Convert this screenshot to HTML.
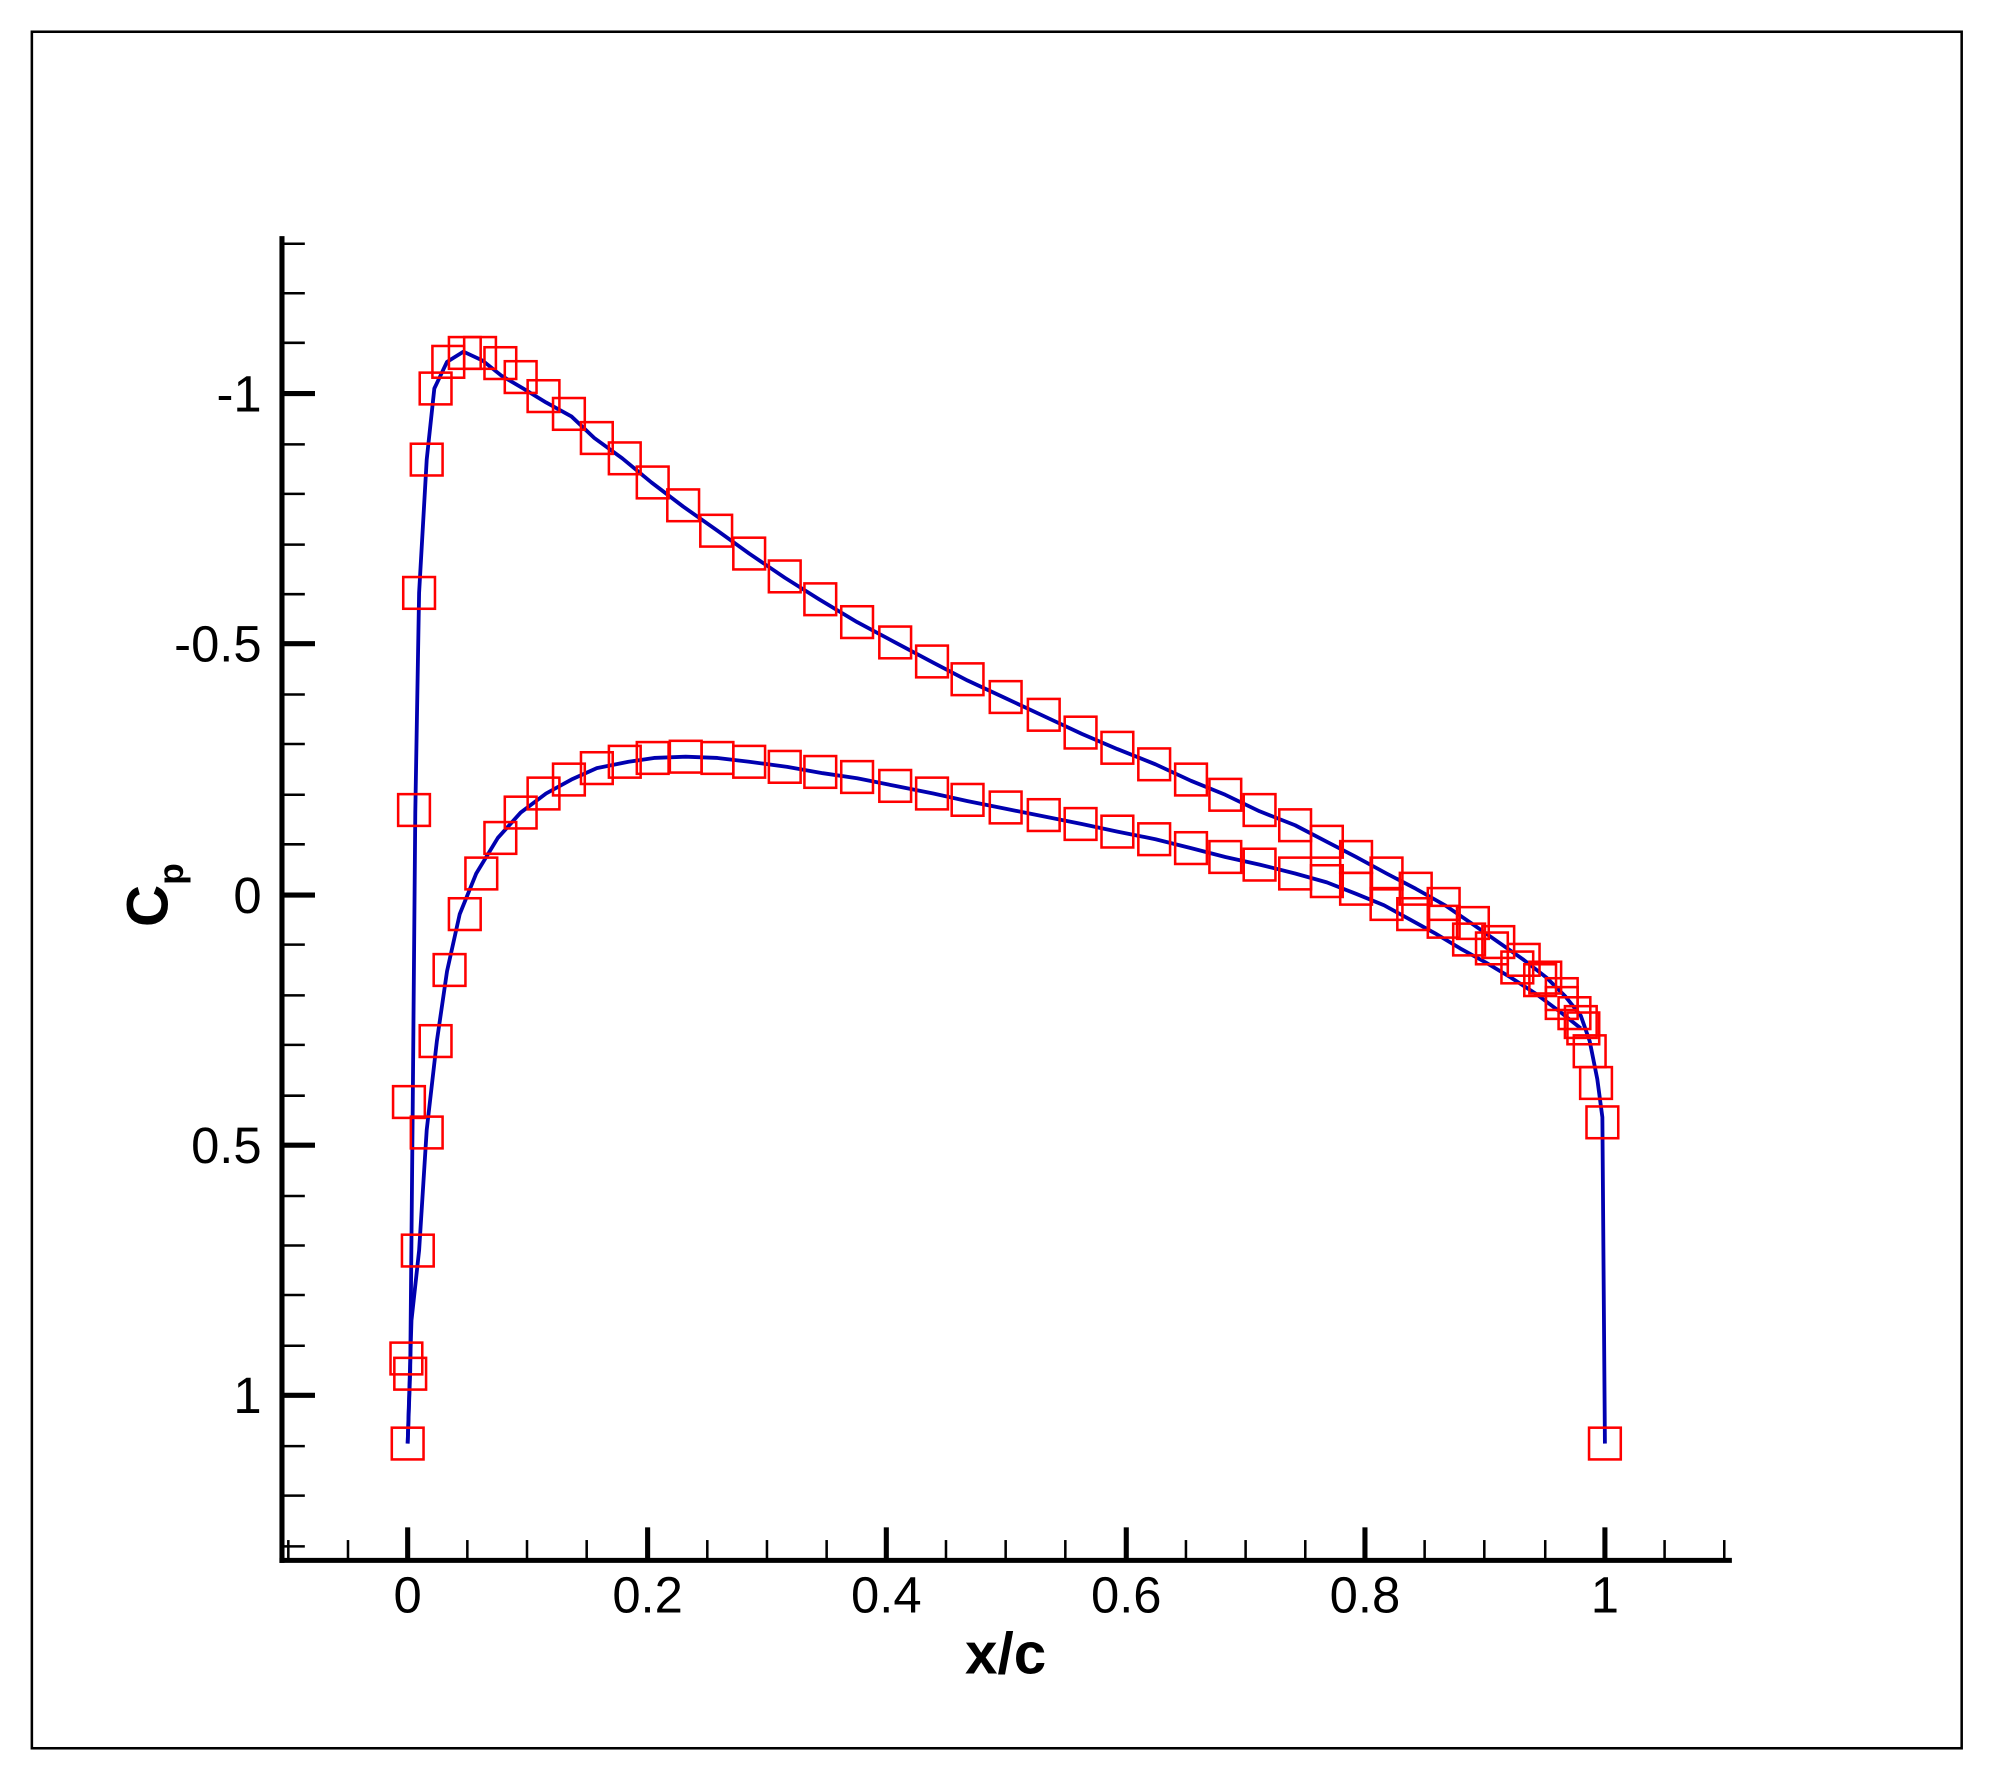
<!DOCTYPE html>
<html><head><meta charset="utf-8"><style>
html,body{margin:0;padding:0;background:#fff}
svg{display:block}
text{font-family:"Liberation Sans",Arial,sans-serif}
</style></head><body>
<svg width="1991" height="1780" viewBox="0 0 1568 1402" xmlns="http://www.w3.org/2000/svg">
<rect x="25" y="25" width="1520" height="1352" fill="none" stroke="#000" stroke-width="2"/>
<g stroke="#000">
<line x1="222" y1="186" x2="222" y2="1231" stroke-width="4"/>
<line x1="220" y1="1229" x2="1364" y2="1229" stroke-width="4"/>
<g stroke-width="4">
<line x1="222" y1="310" x2="248" y2="310"/><line x1="222" y1="507" x2="248" y2="507"/>
<line x1="222" y1="705" x2="248" y2="705"/><line x1="222" y1="902" x2="248" y2="902"/>
<line x1="222" y1="1099" x2="248" y2="1099"/>
</g>
<g stroke-width="2">
<line x1="222" y1="192" x2="240" y2="192"/><line x1="222" y1="231" x2="240" y2="231"/><line x1="222" y1="270" x2="240" y2="270"/>
<line x1="222" y1="350" x2="240" y2="350"/><line x1="222" y1="389" x2="240" y2="389"/><line x1="222" y1="429" x2="240" y2="429"/><line x1="222" y1="468" x2="240" y2="468"/>
<line x1="222" y1="547" x2="240" y2="547"/><line x1="222" y1="586" x2="240" y2="586"/><line x1="222" y1="626" x2="240" y2="626"/><line x1="222" y1="665" x2="240" y2="665"/>
<line x1="222" y1="744" x2="240" y2="744"/><line x1="222" y1="784" x2="240" y2="784"/><line x1="222" y1="823" x2="240" y2="823"/><line x1="222" y1="863" x2="240" y2="863"/>
<line x1="222" y1="942" x2="240" y2="942"/><line x1="222" y1="981" x2="240" y2="981"/><line x1="222" y1="1020" x2="240" y2="1020"/><line x1="222" y1="1060" x2="240" y2="1060"/>
<line x1="222" y1="1139" x2="240" y2="1139"/><line x1="222" y1="1178" x2="240" y2="1178"/><line x1="222" y1="1218" x2="240" y2="1218"/>
</g>
<g stroke-width="4">
<line x1="321" y1="1229" x2="321" y2="1203"/><line x1="510" y1="1229" x2="510" y2="1203"/>
<line x1="698" y1="1229" x2="698" y2="1203"/><line x1="887" y1="1229" x2="887" y2="1203"/>
<line x1="1075" y1="1229" x2="1075" y2="1203"/><line x1="1264" y1="1229" x2="1264" y2="1203"/>
</g>
<g stroke-width="2">
<line x1="227" y1="1229" x2="227" y2="1213"/><line x1="274" y1="1229" x2="274" y2="1213"/>
<line x1="368" y1="1229" x2="368" y2="1213"/><line x1="415" y1="1229" x2="415" y2="1213"/><line x1="462" y1="1229" x2="462" y2="1213"/>
<line x1="557" y1="1229" x2="557" y2="1213"/><line x1="604" y1="1229" x2="604" y2="1213"/><line x1="651" y1="1229" x2="651" y2="1213"/>
<line x1="745" y1="1229" x2="745" y2="1213"/><line x1="792" y1="1229" x2="792" y2="1213"/><line x1="839" y1="1229" x2="839" y2="1213"/>
<line x1="934" y1="1229" x2="934" y2="1213"/><line x1="981" y1="1229" x2="981" y2="1213"/><line x1="1028" y1="1229" x2="1028" y2="1213"/>
<line x1="1122" y1="1229" x2="1122" y2="1213"/><line x1="1169" y1="1229" x2="1169" y2="1213"/><line x1="1217" y1="1229" x2="1217" y2="1213"/>
<line x1="1311" y1="1229" x2="1311" y2="1213"/><line x1="1358" y1="1229" x2="1358" y2="1213"/>
</g>
</g>
<g font-size="40" fill="#000" text-anchor="end">
<text x="206" y="324">-1</text><text x="206" y="521">-0.5</text><text x="206" y="719">0</text>
<text x="206" y="916">0.5</text><text x="206" y="1113">1</text>
</g>
<g font-size="40" fill="#000" text-anchor="middle">
<text x="321" y="1270">0</text><text x="510" y="1270">0.2</text><text x="698" y="1270">0.4</text>
<text x="887" y="1270">0.6</text><text x="1075" y="1270">0.8</text><text x="1264" y="1270">1</text>
</g>
<text x="792" y="1318" font-size="46" font-weight="bold" text-anchor="middle">x/c</text>
<g transform="translate(132,705) rotate(-90)">
<text x="0" y="0" font-size="46" font-weight="bold" text-anchor="middle">C<tspan font-size="28" dy="12">p</tspan></text>
</g>
<g fill="none" stroke="#0000b0" stroke-width="3" stroke-linejoin="round">
<polyline points="321,1137 323,1080 325,870 327,640 330,467 336,362 342,306 352,285 365,277 380,284 395,296 412,306 430,317 450,328 468,345 490,361 513,380 538,399 565,418 590,436 618,455 645,472 675,490 705,506 735,522 762,536 792,550 822,564 852,578 880,590 910,602 938,615 965,626 992,639 1020,650 1045,663 1068,675 1092,688 1115,700 1138,713 1160,728 1180,742 1200,756 1218,770 1233,785 1245,800 1252,820 1258,850 1262,880 1264,1137"/>
<polyline points="321,1137 324,1040 330,985 336,890 344,820 352,765 362,720 375,688 392,660 410,640 430,625 450,614 470,605 495,600 515,597 540,596 565,597 590,600 620,604 648,609 675,613 705,619 735,625 762,631 792,637 822,643 852,649 880,655 910,661 938,668 965,675 992,681 1020,688 1045,695 1068,704 1090,713 1110,724 1130,735 1150,747 1170,758 1190,770 1210,783 1230,798 1245,810"/>
</g>
<g fill="none" stroke="#ff0000" stroke-width="2">
<rect x="308.5" y="1124.5" width="25" height="25"/><rect x="310.5" y="1069.5" width="25" height="25"/><rect x="307.5" y="1057.5" width="25" height="25"/>
<rect x="323.5" y="349.5" width="25" height="25"/><rect x="309.5" y="855.5" width="25" height="25"/><rect x="313.5" y="625.5" width="25" height="25"/>
<rect x="317.5" y="454.5" width="25" height="25"/><rect x="330.5" y="293.5" width="25" height="25"/><rect x="340.5" y="272.5" width="25" height="25"/>
<rect x="353.5" y="265.5" width="25" height="25"/><rect x="365.5" y="265.5" width="25" height="25"/><rect x="381.5" y="273.5" width="25" height="25"/>
<rect x="397.5" y="284.5" width="25" height="25"/><rect x="415.5" y="299.5" width="25" height="25"/><rect x="435.5" y="313.5" width="25" height="25"/>
<rect x="457.5" y="332.5" width="25" height="25"/><rect x="479.5" y="348.5" width="25" height="25"/><rect x="501.5" y="367.5" width="25" height="25"/>
<rect x="525.5" y="385.5" width="25" height="25"/><rect x="551.5" y="405.5" width="25" height="25"/><rect x="577.5" y="423.5" width="25" height="25"/>
<rect x="605.5" y="441.5" width="25" height="25"/><rect x="633.5" y="459.5" width="25" height="25"/><rect x="662.5" y="477.5" width="25" height="25"/>
<rect x="692.5" y="493.5" width="25" height="25"/><rect x="721.5" y="508.5" width="25" height="25"/><rect x="749.5" y="522.5" width="25" height="25"/>
<rect x="779.5" y="536.5" width="25" height="25"/><rect x="809.5" y="550.5" width="25" height="25"/><rect x="838.5" y="564.5" width="25" height="25"/>
<rect x="867.5" y="576.5" width="25" height="25"/><rect x="896.5" y="589.5" width="25" height="25"/><rect x="925.5" y="601.5" width="25" height="25"/>
<rect x="952.5" y="613.5" width="25" height="25"/><rect x="979.5" y="625.5" width="25" height="25"/><rect x="1007.5" y="637.5" width="25" height="25"/>
<rect x="1032.5" y="650.5" width="25" height="25"/><rect x="1055.5" y="662.5" width="25" height="25"/><rect x="1079.5" y="675.5" width="25" height="25"/>
<rect x="1102.5" y="687.5" width="25" height="25"/><rect x="1124.5" y="699.5" width="25" height="25"/><rect x="1147.5" y="714.5" width="25" height="25"/>
<rect x="1167.5" y="729.5" width="25" height="25"/><rect x="1187.5" y="743.5" width="25" height="25"/><rect x="1204.5" y="757.5" width="25" height="25"/>
<rect x="1217.5" y="770.5" width="25" height="25"/><rect x="1227.5" y="785.5" width="25" height="25"/><rect x="1234.5" y="797.5" width="25" height="25"/>
<rect x="1239.5" y="815.5" width="25" height="25"/><rect x="1244.5" y="840.5" width="25" height="25"/><rect x="1249.5" y="871.5" width="25" height="25"/>
<rect x="1251.5" y="1124.5" width="25" height="25"/>
<rect x="316.5" y="972.5" width="25" height="25"/><rect x="323.5" y="879.5" width="25" height="25"/><rect x="330.5" y="807.5" width="25" height="25"/>
<rect x="341.5" y="751.5" width="25" height="25"/><rect x="353.5" y="707.5" width="25" height="25"/><rect x="366.5" y="675.5" width="25" height="25"/>
<rect x="381.5" y="647.5" width="25" height="25"/><rect x="397.5" y="627.5" width="25" height="25"/><rect x="415.5" y="612.5" width="25" height="25"/>
<rect x="435.5" y="601.5" width="25" height="25"/><rect x="457.5" y="592.5" width="25" height="25"/><rect x="479.5" y="587.5" width="25" height="25"/>
<rect x="501.5" y="584.5" width="25" height="25"/><rect x="527.5" y="583.5" width="25" height="25"/><rect x="552.5" y="584.5" width="25" height="25"/>
<rect x="577.5" y="587.5" width="25" height="25"/><rect x="605.5" y="591.5" width="25" height="25"/><rect x="633.5" y="595.5" width="25" height="25"/>
<rect x="662.5" y="599.5" width="25" height="25"/><rect x="692.5" y="606.5" width="25" height="25"/><rect x="721.5" y="612.5" width="25" height="25"/>
<rect x="749.5" y="617.5" width="25" height="25"/><rect x="779.5" y="623.5" width="25" height="25"/><rect x="809.5" y="629.5" width="25" height="25"/>
<rect x="838.5" y="636.5" width="25" height="25"/><rect x="867.5" y="642.5" width="25" height="25"/><rect x="896.5" y="648.5" width="25" height="25"/>
<rect x="925.5" y="655.5" width="25" height="25"/><rect x="952.5" y="662.5" width="25" height="25"/><rect x="979.5" y="668.5" width="25" height="25"/>
<rect x="1007.5" y="675.5" width="25" height="25"/><rect x="1032.5" y="681.5" width="25" height="25"/><rect x="1055.5" y="687.5" width="25" height="25"/>
<rect x="1079.5" y="699.5" width="25" height="25"/><rect x="1100.5" y="707.5" width="25" height="25"/><rect x="1124.5" y="713.5" width="25" height="25"/>
<rect x="1144.5" y="727.5" width="25" height="25"/><rect x="1162.5" y="734.5" width="25" height="25"/><rect x="1182.5" y="749.5" width="25" height="25"/>
<rect x="1200.5" y="759.5" width="25" height="25"/><rect x="1217.5" y="777.5" width="25" height="25"/><rect x="1232.5" y="792.5" width="25" height="25"/>
</g>
</svg>
</body></html>
